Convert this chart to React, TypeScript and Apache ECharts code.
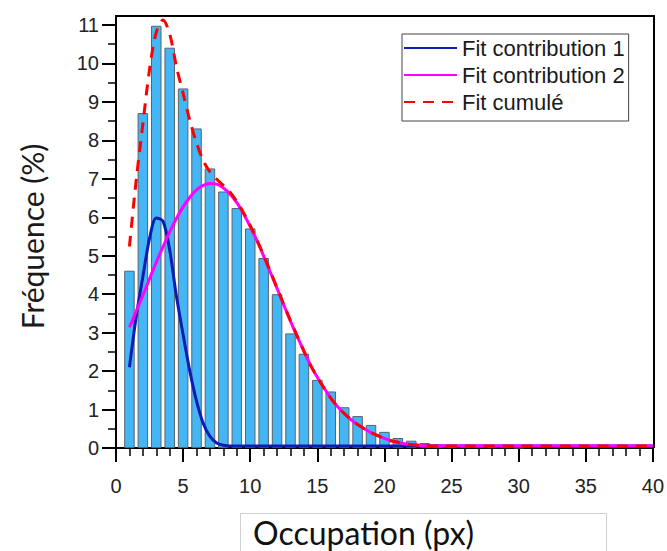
import React, { useEffect, useRef } from "react";
import * as echarts from "echarts";

// Histogram bins (Occupation, px) and frequencies (%)
const binCenters = [1, 2, 3, 4, 5, 6, 7, 8, 9, 10, 11, 12, 13, 14, 15, 16, 17, 18, 19, 20, 21, 22, 23, 24, 25, 26, 27, 28, 29, 30];
const binFreq = [4.61, 8.71, 10.98, 10.41, 9.35, 8.31, 7.27, 6.67, 6.24, 5.71, 4.94, 4.0, 2.98, 2.45, 1.77, 1.47, 1.06, 0.83, 0.6, 0.42, 0.26, 0.19, 0.13, 0.09, 0.06, 0.04, 0.03, 0.02, 0.02, 0.01];

// Fit curves
const curveX = [1, 1.5, 2, 2.5, 3, 3.5, 4, 4.5, 5, 5.5, 6, 6.5, 7, 7.5, 8, 8.5, 9, 9.5, 10, 10.5, 11, 11.5, 12, 12.5, 13, 13.5, 14, 14.5, 15, 15.5, 16, 16.5, 17, 17.5, 18, 18.5, 19, 19.5, 20, 20.5, 21, 21.5, 22, 23, 24, 26, 30, 35, 40];
const fit1 = [2.1, 3.4, 4.45, 5.45, 5.98, 5.9, 5.15, 3.95, 2.95, 2.0, 1.22, 0.64, 0.3, 0.13, 0.07, 0.05, 0.05, 0.05, 0.05, 0.05, 0.05, 0.05, 0.05, 0.05, 0.05, 0.05, 0.05, 0.05, 0.05, 0.05, 0.05, 0.05, 0.05, 0.05, 0.05, 0.05, 0.05, 0.05, 0.05, 0.05, 0.05, 0.05, 0.05, 0.05, 0.05, 0.05, 0.05, 0.05, 0.05];
const fit2 = [3.14, 3.55, 3.97, 4.4, 4.83, 5.23, 5.62, 5.97, 6.27, 6.52, 6.71, 6.83, 6.88, 6.86, 6.76, 6.6, 6.38, 6.09, 5.76, 5.39, 4.99, 4.57, 4.15, 3.72, 3.3, 2.9, 2.52, 2.15, 1.84, 1.56, 1.3, 1.08, 0.9, 0.74, 0.61, 0.5, 0.4, 0.32, 0.25, 0.19, 0.15, 0.11, 0.09, 0.06, 0.05, 0.05, 0.05, 0.05, 0.05];
const fitSum = [5.24, 6.95, 8.42, 9.85, 10.81, 11.13, 10.77, 9.92, 9.22, 8.52, 7.93, 7.47, 7.18, 6.99, 6.83, 6.65, 6.41, 6.12, 5.79, 5.41, 5.01, 4.59, 4.16, 3.73, 3.31, 2.91, 2.52, 2.15, 1.84, 1.56, 1.3, 1.08, 0.9, 0.74, 0.61, 0.5, 0.4, 0.32, 0.25, 0.19, 0.15, 0.11, 0.09, 0.06, 0.05, 0.05, 0.05, 0.05, 0.05];

const seriesNames = ["Fit contribution 1", "Fit contribution 2", "Fit cumulé"];
const xTitle = "Occupation (px)";
const yTitle = "Fréquence (%)";

const ARIAL = "'Liberation Sans', Arial, sans-serif";
const HUMANIST = "Lato, 'Open Sans', sans-serif";

export default function App() {
  const ref = useRef<HTMLDivElement>(null);
  useEffect(() => {
    if (!ref.current) return;
    const chart = echarts.init(ref.current, undefined, { renderer: "svg" });
    const zip = (xs: number[], ys: number[]) => xs.map((x, i) => [x, ys[i]]);
    const lineCommon = { type: "line", symbol: "none", smooth: 0.3, clip: false };
    chart.setOption({
      animation: false,
      backgroundColor: "#ffffff",
      grid: { left: 116, right: 13, top: 25, bottom: 103, show: false },
      legend: {
        orient: "vertical",
        left: 402,
        top: 34,
        padding: [3, 4, 8, 1],
        itemGap: 5,
        itemWidth: 53,
        itemHeight: 14,
        backgroundColor: "#fff",
        borderColor: "#444",
        borderWidth: 1,
        itemStyle: { opacity: 0, borderWidth: 0 },
        textStyle: { fontFamily: ARIAL, fontSize: 22, color: "#1a1a1a" },
        data: seriesNames,
      },
      xAxis: {
        type: "value",
        position: "bottom",
        min: 0,
        max: 40,
        interval: 5,
        splitLine: { show: false },
        axisLine: { show: true, onZero: false, lineStyle: { color: "#000", width: 2 } },
        axisTick: { show: true, inside: false, length: 14, lineStyle: { color: "#000", width: 2 } },
        minorTick: { show: true, splitNumber: 5, length: 8, lineStyle: { color: "#000", width: 1.5 } },
        axisLabel: { margin: 28, fontFamily: ARIAL, fontSize: 20, color: "#222" },
      },
      yAxis: {
        type: "value",
        position: "left",
        min: 0,
        max: 11,
        interval: 1,
        splitLine: { show: false },
        axisLine: { show: true, lineStyle: { color: "#000", width: 2 } },
        axisTick: { show: true, inside: false, length: 14, lineStyle: { color: "#000", width: 2 } },
        minorTick: { show: true, splitNumber: 2, length: 8, lineStyle: { color: "#000", width: 1.5 } },
        axisLabel: { margin: 17, fontFamily: ARIAL, fontSize: 20, color: "#222" },
        name: yTitle,
        nameLocation: "middle",
        nameGap: 69,
        nameTextStyle: { fontFamily: HUMANIST, fontSize: 30, color: "#1a1a1a" },
      },
      series: [
        {
          type: "bar",
          data: zip(binCenters, binFreq),
          barWidth: 10.5,
          itemStyle: { color: "#44b6f6", borderColor: "#56646e", borderWidth: 1 },
          z: 1,
        },
        {
          ...lineCommon,
          name: seriesNames[0],
          data: zip(curveX, fit1),
          lineStyle: { color: "#0c1cb4", width: 3 },
          itemStyle: { color: "#0c1cb4" },
          z: 3,
        },
        {
          ...lineCommon,
          name: seriesNames[1],
          data: zip(curveX, fit2),
          lineStyle: { color: "#ff00ff", width: 3 },
          itemStyle: { color: "#ff00ff" },
          z: 4,
        },
        {
          ...lineCommon,
          name: seriesNames[2],
          data: zip(curveX, fitSum),
          lineStyle: { color: "#ff0000", width: 3, type: [11, 8] },
          itemStyle: { color: "#ff0000" },
          z: 5,
        },
      ],
      graphic: [
        {
          type: "polyline",
          silent: true,
          z: 10,
          shape: { points: [[116, 26], [116, 16], [654, 16], [654, 448]] },
          style: { fill: null, stroke: "#000", lineWidth: 2 },
        },
        {
          type: "rect",
          shape: { x: 240.5, y: 513.5, width: 366, height: 45 },
          style: { fill: "#fff", stroke: "#cfcfcf", lineWidth: 1 },
        },
        {
          type: "text",
          x: 253,
          y: 516,
          style: { text: xTitle, fontFamily: HUMANIST, fontSize: 32, lineHeight: 32, fill: "#111" },
        },
      ],
    });
    return () => chart.dispose();
  }, []);
  return <div ref={ref} style={{ position: "fixed", left: 0, top: 0, width: 667, height: 551 }} />;
}
